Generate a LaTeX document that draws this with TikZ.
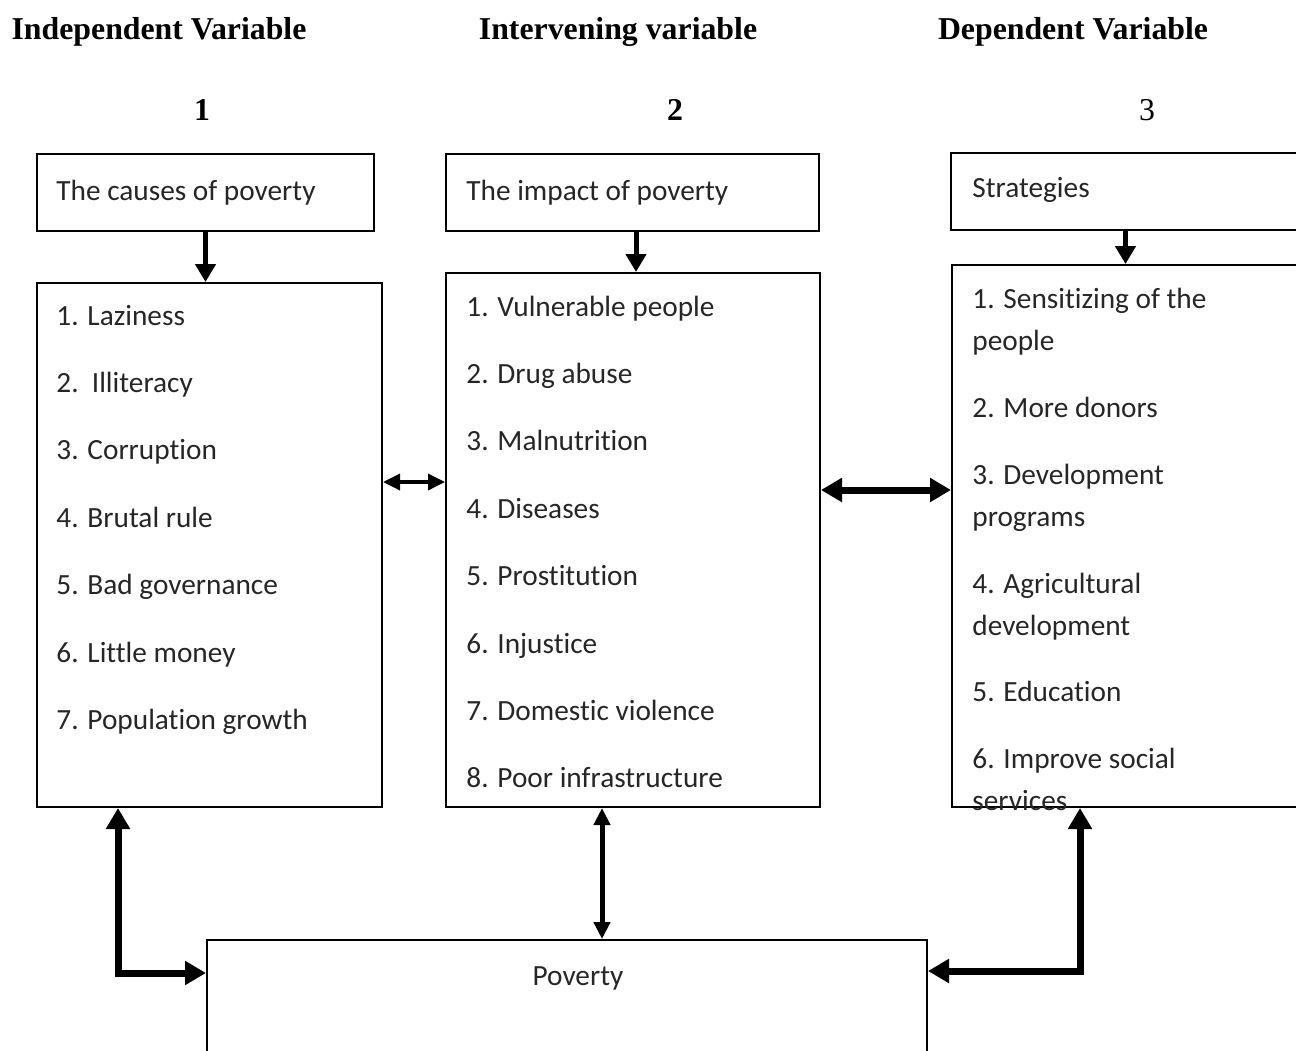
\documentclass[tikz,border=0pt]{standalone}
\usepackage{fontspec}
\setmainfont{Carlito}[Ligatures={NoCommon}]
\newfontfamily\headfont{Liberation Serif}
\usetikzlibrary{arrows.meta,fit}

\tikzset{
  box/.style={draw, line width=1pt, inner sep=0pt},
  item/.style={anchor=base west, inner sep=0pt, text=black!85, align=left,
    font=\fontsize{14.65}{21}\selectfont},
  title/.style={anchor=base, inner sep=0pt, font=\headfont\fontsize{15.9}{18}\selectfont},
  down arrow/.style={line width=2.5pt, -{Triangle[length=9pt,width=10pt]}},
  small link/.style={line width=1.75pt, {Triangle[length=8.5pt,width=8pt]}-{Triangle[length=8.5pt,width=8pt]}},
  mid link/.style={line width=2.5pt, {Triangle[length=8.5pt,width=8pt]}-{Triangle[length=8.5pt,width=8pt]}},
  big link/.style={line width=3.5pt, {Triangle[length=10.5pt,width=11.5pt]}-{Triangle[length=10.5pt,width=11.5pt]}},
}

\begin{document}
\begin{tikzpicture}[x=0.5pt,y=-0.5pt]
    \useasboundingbox (0,0) rectangle (1296,1050);

    % column titles
    \node[title,font=\headfont\bfseries\fontsize{15.9}{18}\selectfont] (t1) at (159,39) {Independent Variable};
    \node[title,font=\headfont\bfseries\fontsize{15.9}{18}\selectfont] (t2) at (618,39) {Intervening variable};
    \node[title,font=\headfont\bfseries\fontsize{15.9}{18}\selectfont] (t3) at (1073,39) {Dependent Variable};
    \node[title,font=\headfont\bfseries\fontsize{15.9}{18}\selectfont] (n1) at (202,120) {1};
    \node[title,font=\headfont\bfseries\fontsize{15.9}{18}\selectfont] (n2) at (675,120) {2};
    \node[title] (n3) at (1147,120) {3};

    % boxes
    \node[box,fit={(37,154) (374,231)}] (causes) {};
    \node[box,fit={(37,283) (382,807)}] (causelist) {};
    \node[box,fit={(446,154) (819,231)}] (impact) {};
    \node[box,fit={(446,273) (820,807)}] (impactlist) {};
    \node[box,fit={(951,153) (1300,230)}] (strat) {};
    \node[box,fit={(952,265) (1300,807)}] (stratlist) {};
    \node[box,fit={(207,940) (927,1060)}] (pov) {};

    % texts
    \node[item] (causestxt) at (56,200) {The causes of poverty};
    \node[item] (impacttxt) at (466,200) {The impact of poverty};
    \node[item] (strattxt) at (972,197) {Strategies};
    \node[item,anchor=base] (povtxt) at (578,985) {Poverty};

    \foreach \txt [count=\i] in {1. Laziness, 2.\ \ Illiteracy, 3. Corruption, 4. Brutal rule,
        5. Bad governance, 6. Little money, 7. Population growth}
      \node[item] (c\i) at (56,{325+(\i-1)*67.4}) {\txt};

    \foreach \txt [count=\i] in {1. Vulnerable people, 2. Drug abuse, 3. Malnutrition, 4. Diseases,
        5. Prostitution, 6. Injustice, 7. Domestic violence, 8. Poor infrastructure}
      \node[item] (m\i) at (466,{316+(\i-1)*67.4}) {\txt};

    % two-line items sit on their last line
    \node[item] (s1) at (972,350) {1. Sensitizing of the\\people};
    \node[item] (s2) at (972,417) {2. More donors};
    \node[item] (s3) at (972,526) {3. Development\\programs};
    \node[item] (s4) at (972,635) {4. Agricultural\\development};
    \node[item] (s5) at (972,701) {5. Education};
    \node[item] (s6) at (972,810) {6. Improve social\\services};

    % arrows
    \draw[down arrow] (causes.south) -- (causes.south |- causelist.north);
    \draw[down arrow] (impact.south -| 636,0) -- (impactlist.north -| 636,0);
    \draw[down arrow] (strat.south) -- (strat.south |- stratlist.north);

    \draw[small link] (causelist.east |- 0,482) -- (impactlist.west |- 0,482);
    \draw[big link] (impactlist.east |- 0,490) -- (stratlist.west |- 0,490);

    \draw[mid link] (impactlist.south -| 602,0) -- (pov.north -| 602,0);
    \draw[big link] (causelist.south -| 118,0) |- (pov.west |- 0,973);
    \draw[big link] (stratlist.south -| 1080,0) |- (pov.east |- 0,971);

\end{tikzpicture}
\end{document}
